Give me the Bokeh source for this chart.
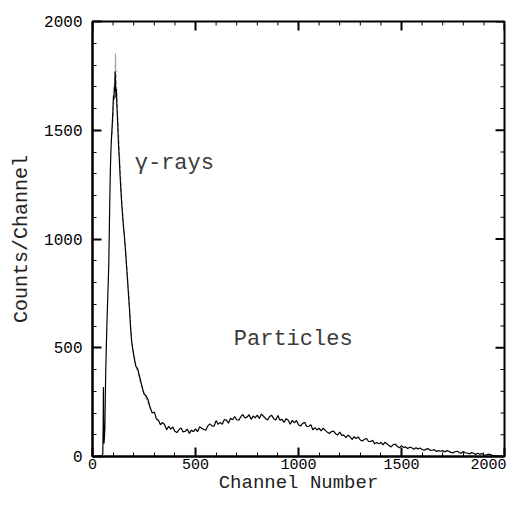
from bokeh.plotting import figure
from bokeh.models import Range1d, SingleIntervalTicker
from bokeh.core.properties import value
from bokeh.embed import file_html
from bokeh.resources import INLINE

# ---- data ----
peak_channel = [0, 30, 45, 50, 52, 53, 54, 56, 58, 60, 62, 64, 67, 70, 73, 76, 79, 81, 84, 87, 90,
                93, 96, 98, 100, 102, 104, 106, 108, 110, 112, 114, 116, 118, 121, 124, 127, 130,
                134, 138, 142, 146, 150, 155, 160, 165, 170, 175, 180, 185, 190, 195]
peak_counts = [0, 0, 3, 12, 160, 320, 150, 60, 90, 130, 260, 380, 500, 610, 700, 790, 880, 1000, 1180, 1330, 1420,
               1480, 1530, 1570, 1620, 1660, 1640, 1700, 1680, 1770, 1700, 1650, 1690, 1620, 1560, 1490, 1420, 1370,
               1290, 1220, 1160, 1110, 1060, 1010, 950, 880, 810, 740, 670, 590, 530, 495]

tail_channel = list(range(200, 1970, 10))
tail_counts = [466, 416, 402, 362, 323, 287, 279, 260, 225, 200,
               205, 173, 167, 146, 157, 146, 123, 139, 126, 136,
               116, 110, 124, 131, 113, 116, 126, 106, 121, 114,
               127, 114, 137, 130, 124, 121, 141, 150, 141, 139,
               165, 148, 157, 148, 170, 167, 153, 176, 169, 184,
               169, 167, 183, 193, 177, 181, 192, 171, 186, 178,
               190, 175, 195, 185, 175, 168, 184, 189, 174, 168,
               189, 167, 171, 157, 174, 167, 148, 166, 155, 166,
               146, 140, 152, 158, 138, 139, 146, 122, 133, 122,
               130, 118, 130, 120, 112, 106, 115, 117, 105, 99,
               112, 97, 98, 87, 98, 92, 78, 91, 83, 90,
               76, 71, 79, 83, 69, 69, 74, 58, 65, 58,
               65, 53, 66, 57, 50, 44, 55, 57, 46, 40,
               50, 42, 44, 37, 43, 40, 33, 40, 35, 39,
               32, 29, 34, 36, 28, 29, 31, 23, 27, 24,
               27, 21, 27, 24, 19, 17, 22, 24, 18, 15,
               23, 16, 16, 12, 18, 15, 9, 15, 10, 14,
               8, 6, 10, 10, 4, 4, 0]

fit_channel = [95, 100, 106, 110, 112, 113, 115, 120, 130, 145, 160, 175, 190, 210, 240, 280]
fit_counts = [1480, 1560, 1700, 1780, 1853, 1800, 1740, 1620, 1400, 1130, 950, 760, 530, 420, 320, 220]

annot_x = [205, 686]
annot_y = [1345, 539]
annot_text = ["\u03b3-rays", "Particles"]

major_ticks = [0, 500, 1000, 1500, 2000]
minor_ticks = [100, 200, 300, 400, 600, 700, 800, 900, 1100, 1200, 1300, 1400,
               1600, 1700, 1800, 1900]

FONT = "Liberation Mono"
X0, X1, Y0, Y1 = 0, 2000, 0, 2000
FRAME_W, FRAME_H = 412, 434

channel = peak_channel + tail_channel
counts = peak_counts + tail_counts

p = figure(width=506, height=496, x_range=Range1d(X0, X1), y_range=Range1d(Y0, Y1),
           output_backend="svg", toolbar_location=None,
           min_border_left=92, min_border_right=2, min_border_top=21, min_border_bottom=40,
           x_axis_label="Channel Number", y_axis_label="Counts/Channel")
p.grid.visible = False
p.outline_line_color = "black"
p.outline_line_width = 2
p.background_fill_color = "white"
p.border_fill_color = "white"

# mirrored inward ticks on the top and right frame edges
xl_major = (X1 - X0) * 9 / FRAME_W
xl_minor = (X1 - X0) * 4 / FRAME_W
yl_major = (Y1 - Y0) * 9 / FRAME_H
yl_minor = (Y1 - Y0) * 4 / FRAME_H
p.segment(x0=major_ticks, x1=major_ticks, y0=[Y1] * len(major_ticks),
          y1=[Y1 - yl_major] * len(major_ticks), line_color="black", line_width=2)
p.segment(x0=minor_ticks, x1=minor_ticks, y0=[Y1] * len(minor_ticks),
          y1=[Y1 - yl_minor] * len(minor_ticks), line_color="black", line_width=1)
p.segment(x0=[X1] * len(major_ticks), x1=[X1 - xl_major] * len(major_ticks),
          y0=major_ticks, y1=major_ticks, line_color="black", line_width=2)
p.segment(x0=[X1] * len(minor_ticks), x1=[X1 - xl_minor] * len(minor_ticks),
          y0=minor_ticks, y1=minor_ticks, line_color="black", line_width=1)

p.line(fit_channel, fit_counts, line_color="#a0a0a0", line_width=1.2, line_dash="4 2")
p.line(channel, counts, line_color="black", line_width=1.2)

p.text(x=annot_x, y=annot_y, text=annot_text, text_font=value(FONT), text_font_size="22px",
       text_color="#3a3a3a", text_baseline="middle", text_align="left")

bottom = p.below[0]
left = p.left[0]
bottom.ticker = SingleIntervalTicker(interval=500, num_minor_ticks=5)
left.ticker = SingleIntervalTicker(interval=500, num_minor_ticks=5)

for ax in [bottom, left]:
    ax.axis_line_width = 2
    ax.axis_line_color = "black"
    ax.major_tick_in = 9
    ax.major_tick_out = 0
    ax.minor_tick_in = 4
    ax.minor_tick_out = 0
    ax.major_tick_line_width = 2
    ax.minor_tick_line_width = 1
    ax.major_label_text_font = FONT
    ax.major_label_text_font_size = "16px"
    ax.major_label_text_color = "black"
    ax.axis_label_text_font = FONT
    ax.axis_label_text_font_size = "20px"
    ax.axis_label_text_font_style = "normal"
    ax.axis_label_text_color = "#222222"

bottom.major_label_text_font_size = "15px"
bottom.axis_label_text_font_size = "19px"
bottom.major_label_standoff = 2
bottom.axis_label_standoff = 0
left.major_label_standoff = 10
left.axis_label_standoff = 8

open("out.html", "w").write(file_html(p, INLINE))
